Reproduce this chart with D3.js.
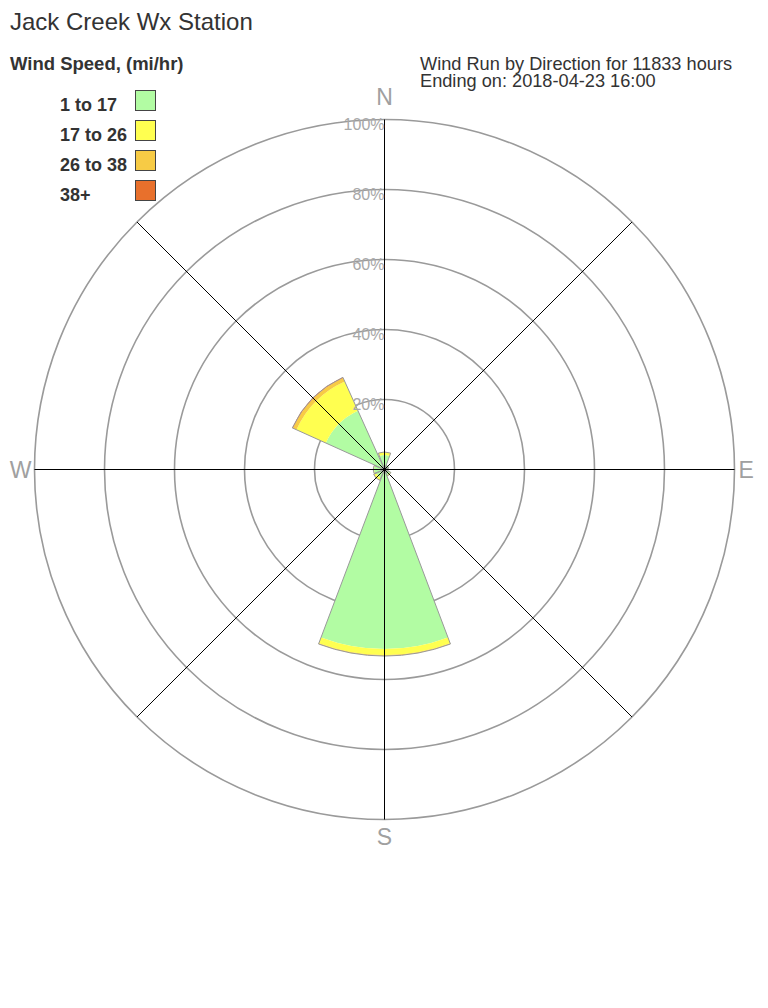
<!DOCTYPE html>
<html>
<head>
<meta charset="utf-8">
<script src="https://cdn.jsdelivr.net/npm/d3@7/dist/d3.min.js"></script>
<style>
  html, body { margin: 0; padding: 0; background: #fff; }
  svg { display: block; font-family: "Liberation Sans", Arial, sans-serif; }
</style>
</head>
<body>
<svg id="chart" width="768" height="1008"></svg>
<script>
// ---- Data ----
const directions = ["N", "NE", "E", "SE", "S", "SW", "W", "NW"];
const speedBins = ["1 to 17", "17 to 26", "26 to 38", "38+"];
const binColors = ["#b2fca3", "#ffff50", "#f7cb45", "#e8702c"];
// percent of wind run per direction for each speed bin
const speed1to17 = [4.1, 1.2, 1.0, 1.8, 51.3, 2.6, 3.0, 18.4];
const speed17to26 = [0.8, 0.1, 0.1, 0.2, 1.8, 0.7, 0.2, 9.2];
const speed26to38 = [0.1, 0.0, 0.0, 0.0, 0.2, 0.1, 0.0, 1.1];
const speed38plus = [0.0, 0.0, 0.0, 0.0, 0.0, 0.0, 0.0, 0.2];
const ringTicks = [20, 40, 60, 80, 100];
const compassLabels = ["N", "E", "S", "W"];
const titleText = "Jack Creek Wx Station";
const legendTitle = "Wind Speed, (mi/hr)";
const infoLines = ["Wind Run by Direction for 11833 hours", "Ending on: 2018-04-23 16:00"];

// ---- Layout ----
const svg = d3.select("#chart");
const cx = 384.5, cy = 469.5, R = 350;
const r = d3.scaleLinear().domain([0, 100]).range([0, R]);
// band scale centred on each compass direction, with a small gap between petals
const dirAngle = d3.scaleBand().domain(directions)
  .range([-Math.PI / 8, 2 * Math.PI - Math.PI / 8])
  .paddingInner(0.08).paddingOuter(0.04);

const series = [speed1to17, speed17to26, speed26to38, speed38plus];
const rows = directions.map((d, i) => {
  const o = { dir: d };
  speedBins.forEach((b, j) => o[b] = series[j][i]);
  return o;
});
const stacked = d3.stack().keys(speedBins)(rows);

const g = svg.append("g").attr("transform", `translate(${cx},${cy})`);

// rings
g.selectAll("circle.ring").data(ringTicks).join("circle")
  .attr("class", "ring").attr("r", d => r(d))
  .attr("fill", "none").attr("stroke", "#9a9a9a").attr("stroke-width", 1.6);

// petals
const arc = d3.arc()
  .startAngle(d => dirAngle(d.data.dir))
  .endAngle(d => dirAngle(d.data.dir) + dirAngle.bandwidth())
  .innerRadius(d => r(d[0]))
  .outerRadius(d => r(d[1]));

g.selectAll("g.layer").data(stacked).join("g").attr("class", "layer")
  .attr("fill", (d, i) => binColors[i])
  .selectAll("path").data(d => d.filter(s => s[1] > s[0])).join("path")
  .attr("d", arc);

// petal outlines
const outline = d3.arc()
  .startAngle(d => dirAngle(d.data.dir))
  .endAngle(d => dirAngle(d.data.dir) + dirAngle.bandwidth())
  .innerRadius(0)
  .outerRadius(d => r(d[1]));
g.selectAll("path.outline").data(stacked[stacked.length - 1]).join("path")
  .attr("class", "outline").attr("d", outline)
  .attr("fill", "none").attr("stroke", "#999").attr("stroke-width", 1);

// axis spokes
const spokeAngles = d3.range(8).map(i => i * Math.PI / 4);
g.selectAll("line.spoke").data(spokeAngles).join("line")
  .attr("class", "spoke")
  .attr("x1", 0).attr("y1", 0)
  .attr("x2", a => R * Math.sin(a)).attr("y2", a => -R * Math.cos(a))
  .attr("stroke", "#000").attr("stroke-width", 1);

// ring labels
g.selectAll("text.ringlab").data(ringTicks).join("text")
  .attr("class", "ringlab")
  .attr("x", 0).attr("y", d => -r(d) + 10)
  .attr("text-anchor", "end")
  .attr("font-size", 16).attr("fill", "#a8a8a8")
  .text(d => d + "%");

// compass labels
const compassPos = {
  N: { x: 0, y: -R - 14.5, anchor: "middle" },
  E: { x: R + 4, y: 8.5, anchor: "start" },
  S: { x: 0, y: R + 25.5, anchor: "middle" },
  W: { x: -R - 3, y: 8.5, anchor: "end" }
};
g.selectAll("text.compass").data(compassLabels).join("text")
  .attr("class", "compass")
  .attr("x", d => compassPos[d].x).attr("y", d => compassPos[d].y)
  .attr("text-anchor", d => compassPos[d].anchor)
  .attr("font-size", 23).attr("fill", "#a0a0a0")
  .text(d => d);

// title
svg.append("text").attr("x", 10).attr("y", 30)
  .attr("font-size", 24).attr("fill", "#333").text(titleText);

// legend
svg.append("text").attr("x", 10).attr("y", 70)
  .attr("font-size", 18.5).attr("font-weight", "bold").attr("fill", "#333").text(legendTitle);
const leg = svg.selectAll("g.leg").data(speedBins).join("g")
  .attr("class", "leg")
  .attr("transform", (d, i) => `translate(0,${111 + i * 30})`);
leg.append("text").attr("x", 60).attr("y", 0)
  .attr("font-size", 18).attr("font-weight", "bold").attr("fill", "#333").text(d => d);
leg.append("rect").attr("x", 135.5).attr("y", -20.5).attr("width", 20).attr("height", 20)
  .attr("fill", (d, i) => binColors[i]).attr("stroke", "#444").attr("stroke-width", 1);

// info text
svg.selectAll("text.info").data(infoLines).join("text")
  .attr("class", "info")
  .attr("x", 420).attr("y", (d, i) => 69.5 + i * 17.5)
  .attr("font-size", 18.2).attr("fill", "#333")
  .text(d => d);
</script>
</body>
</html>
